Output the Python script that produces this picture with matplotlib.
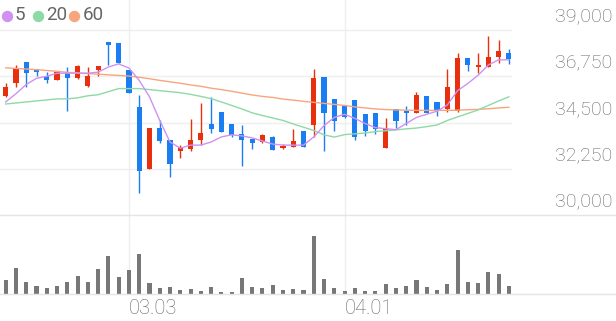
import numpy as np
import matplotlib.pyplot as plt
from matplotlib.lines import Line2D

plt.rcParams['font.family'] = ['Roboto', 'DejaVu Sans']

# daily candles (KRW)
opens = [35800, 36400, 37450, 37100, 36750, 36550, 36950, 36650, 36300, 37050,
         38400, 38350, 37050, 35250, 32250, 34250, 33650, 33100, 33200, 33650,
         34450, 35000, 34450, 33950, 33700, 33550, 33800, 33250, 33300, 34100,
         34400, 36700, 35650, 35300, 35600, 34900, 34950, 33250, 35150, 35050,
         34950, 35800, 35500, 35150, 35050, 37650, 37200, 37200, 37700, 37900]
highs = [36400, 37300, 37450, 37100, 36950, 36950, 37200, 37300, 37200, 37250,
         38400, 38350, 37050, 35850, 34250, 34600, 33650, 33400, 34650, 35450,
         35750, 35000, 34450, 34400, 33700, 33950, 33850, 33450, 34200, 34100,
         37100, 36700, 35650, 35300, 35600, 34900, 34950, 34700, 35150, 35300,
         36000, 35800, 35500, 37100, 37900, 37650, 37900, 38700, 38500, 38100]
lows = [35750, 36250, 36250, 36750, 36400, 36550, 35050, 36600, 36250, 36750,
        37300, 37400, 35950, 31050, 32250, 33500, 31850, 32750, 33100, 33400,
        34000, 34050, 33800, 32400, 33200, 33500, 33150, 33200, 33300, 33300,
        33800, 33100, 34100, 34700, 33650, 33850, 33950, 33250, 34250, 34400,
        34950, 34950, 34800, 35000, 35000, 37000, 36900, 37200, 37400, 37350]
closes = [36250, 37150, 36900, 36950, 36550, 36950, 36650, 37250, 36750, 37250,
          38250, 37400, 35950, 32150, 34250, 33600, 32500, 33300, 33650, 34000,
          34200, 34050, 33900, 33650, 33500, 33900, 33150, 33350, 33600, 33300,
          36650, 34950, 34550, 34750, 33800, 34100, 34200, 34200, 34550, 34950,
          35850, 34950, 35100, 36250, 37650, 37300, 37300, 37700, 38000, 37600]
volumes = [41, 77, 37, 25, 19, 23, 36, 54, 36, 76, 113, 50, 73, 120, 33, 18, 21, 11, 14, 9,
           22, 7, 7, 47, 21, 17, 26, 13, 14, 13, 175, 45, 17, 10, 17, 10, 10, 29, 19, 24,
           41, 21, 12, 30, 132, 37, 32, 65, 59, 25]

ma5 = [35500, 35900, 36350, 36650, 36750, 36900, 36900, 36900, 36900, 36950,
       37200, 37350, 37150, 36550, 35750, 34600, 33550, 33250, 33400, 33400,
       33550, 33800, 33900, 33850, 33750, 33600, 33450, 33400, 33400, 33400,
       33800, 34350, 34750, 34900, 34700, 34450, 34250, 34200, 34150, 34450,
       34750, 34900, 35050, 35350, 36050, 36400, 36800, 37300, 37550, 37550]
ma20 = [35400, 35450, 35500, 35550, 35600, 35650, 35650, 35700, 35800, 35850,
        36000, 36150, 36150, 36150, 36100, 36050, 36000, 35950, 35870, 35770,
        35660, 35500, 35330, 35160, 34970, 34840, 34720, 34600, 34430, 34270,
        34110, 33900, 33790, 33910, 33950, 33990, 34060, 34100, 34140, 34190,
        34230, 34300, 34380, 34600, 34770, 34940, 35110, 35330, 35550, 35750]
ma60 = [37160, 37130, 37100, 37070, 37030, 36990, 36940, 36910, 36880, 36850,
        36820, 36790, 36760, 36700, 36630, 36550, 36480, 36410, 36330, 36260,
        36170, 36100, 36020, 35930, 35840, 35770, 35720, 35640, 35590, 35530,
        35480, 35430, 35380, 35330, 35260, 35210, 35160, 35130, 35110, 35100,
        35090, 35090, 35090, 35090, 35100, 35120, 35140, 35170, 35210, 35240]

price_ticks = [30000, 32250, 34500, 36750, 39000]
date_idx = [12, 33]
date_labels = ['03.03', '04.01']
ma_names = ['5', '20', '60']

RED = '#e8300e'
BLUE = '#1a7ef2'
MA_COLORS = ['#cf92f2', '#8ed9a6', '#f7a57f']
GRID = '#efefef'
TXT = '#666666'

W, H = 616, 321
fig = plt.figure(figsize=(W / 100, H / 100), dpi=100)
ax = fig.add_axes([0, (H - 215) / H, 512 / W, 215 / H])
axv = fig.add_axes([0, (H - 294) / H, 512 / W, 79 / H])

o = np.array(opens)
c = np.array(closes)
x = np.arange(len(o))
up = c >= o
colors = np.where(up, RED, BLUE)

# grid
for v in price_ticks[1:]:
    ax.axhline(v, color=GRID, lw=1, zorder=0)
for i in date_idx:
    ax.axvline(i, color=GRID, lw=1, zorder=0)
    axv.axvline(i, color=GRID, lw=1, zorder=0)

# candles
ax.vlines(x, lows, highs, colors=colors, lw=1.0, zorder=2)
body_bottom = np.minimum(o, c)
body_h = np.maximum(np.abs(c - o), 60)
ax.bar(x, body_h, bottom=body_bottom, width=0.5, color=colors, zorder=3)

# moving averages
for ma, col in zip([ma60, ma20, ma5], MA_COLORS[::-1]):
    ax.plot(x, ma, color=col, lw=1.0, zorder=4)

ax.set_xlim(-0.555, 49.3)
ax.set_ylim(30000, 40460)
ax.axis('off')

# right side price labels
for v in price_ticks:
    ax.annotate(f'{v:,}', xy=(1, v), xycoords=('axes fraction', 'data'),
                xytext=(72, 9.8), textcoords='offset points', ha='right', va='center',
                fontsize=14, fontweight='light', color=TXT, annotation_clip=False)

# legend
leg_dot_x = [6.7, 37.7, 74]
leg_txt_x = [14.5, 46, 82.5]
for name, col, dx, tx in zip(ma_names, MA_COLORS, leg_dot_x, leg_txt_x):
    ax.plot([dx / 512], [1 - 15.7 / 215], 'o', ms=7.2, color=col,
            transform=ax.transAxes, clip_on=False)
    ax.text(tx / 512, 1 - 15.5 / 215, name, transform=ax.transAxes,
            ha='left', va='center', fontsize=13.5, color='#666666')

# volume
axv.bar(x, volumes, width=0.4, color='#777777', zorder=2)
axv.set_xlim(-0.555, 49.3)
axv.set_ylim(0, 237)
axv.axis('off')
for i, lab in zip(date_idx, date_labels):
    axv.annotate(lab, xy=(i, 0), xycoords=('data', 'axes fraction'),
                 xytext=(0, -10.8), textcoords='offset points', ha='left', va='center',
                 fontsize=14.5, fontweight='light', color=TXT, annotation_clip=False)

# panel separator and volume baseline across full width
for py in [215, 294]:
    fig.add_artist(Line2D([0, 1], [1 - py / H] * 2, transform=fig.transFigure,
                          color='#e4e4e4', lw=1))

fig.savefig('out.png', dpi=100)
